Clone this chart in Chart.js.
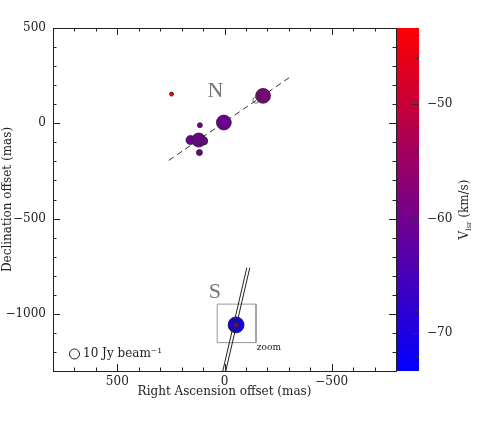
<!DOCTYPE html>
<html>
<head>
<meta charset="utf-8">
<script src="https://cdn.jsdelivr.net/npm/chart.js@4/dist/chart.umd.min.js"></script>
<style>
  html, body { margin: 0; padding: 0; background: #fff; }
</style>
</head>
<body>
<canvas id="spotChart" width="491" height="424"></canvas>
<script>
// maser spots: RA offset (mas), Dec offset (mas), Vlsr (km/s), flux (Jy/beam)
const spotRA   = [247, -180, 3, 115, 159, 120, 97, 117, -54, -54];
const spotDec  = [153, 144, 4, -10, -88, -88, -93, -154, -1058, -1058];
const spotVel  = [-44.5, -58, -60.5, -59.5, -60, -60.5, -60, -60, -71, -54.5];
const spotFlux = [1.6, 22, 22, 2.5, 8, 19.6, 6.4, 3.6, 25.6, 2.5];

// open rings inside the bigger spots
const ringRA   = [-169, -146, 101];
const ringDec  = [132, 121, -89];
const ringFlux = [6.4, 3.6, 6.4];

// dashed line through the northern group
const fitRA  = [260, -305];
const fitDec = [-195, 242];

// lines through the southern spot
const southA_RA  = [-104, 8];
const southA_Dec = [-758, -1300];
const southB_RA  = [-118, -6];
const southB_Dec = [-758, -1300];

// zoom box round S
const boxRA  = [34, -147, -147, 34, 34];
const boxDec = [-949, -949, -1151, -1151, -949];

const raTicks  = [500, 0, -500];
const decTicks = [500, 0, -500, -1000];
const velTicks = [-50, -60, -70];
const velMin = -73.3, velMax = -43.4;

const FONT = 'DejaVu Serif';
const INK = '#222';

function velColor(v) {
    let t = (v - velMin) / (velMax - velMin);
    t = Math.max(0, Math.min(1, t));
    return `rgb(${Math.round(255 * t)},0,${Math.round(255 * (1 - t))})`;
}
function fluxRadius(f) {
    return 5 * Math.sqrt(f / 10);
}
function pts(xs, ys) {
    return xs.map((x, i) => ({ x: x, y: ys[i] }));
}
function minus(v) {
    return String(v).replace('-', '\u2212');
}

/* =====================
   Frame, ticks, colour bar, labels
   ===================== */
const framePlugin = {
    id: 'framePlugin',
    afterDraw(chart) {
        const ctx = chart.ctx;
        const a = chart.chartArea;
        const sx = chart.scales.x, sy = chart.scales.y, sv = chart.scales.v;
        ctx.save();

        // colour bar
        const yTop = sv.getPixelForValue(velMax), yBot = sv.getPixelForValue(velMin);
        const g = ctx.createLinearGradient(0, yBot, 0, yTop);
        g.addColorStop(0, velColor(velMin));
        g.addColorStop(1, velColor(velMax));
        ctx.fillStyle = g;
        ctx.fillRect(a.right, yTop, 23, yBot - yTop);
        ctx.strokeStyle = '#333';
        ctx.lineWidth = 1;
        ctx.beginPath();
        for (let v = -72; v <= -44; v += 2) {
            const py = Math.round(sv.getPixelForValue(v)) + 0.5;
            const len = v % 10 === 0 ? 7 : 4;
            ctx.moveTo(a.right + 23, py);
            ctx.lineTo(a.right + 23 - len, py);
        }
        ctx.stroke();

        // plot box
        ctx.strokeStyle = INK;
        ctx.strokeRect(Math.round(a.left) + 0.5, Math.round(a.top) + 0.5,
            Math.round(a.right - a.left), Math.round(a.bottom - a.top));

        // ticks on all four sides
        ctx.beginPath();
        for (let v = -800; v <= 800; v += 100) {
            const px = Math.round(sx.getPixelForValue(v)) + 0.5;
            const len = v % 500 === 0 ? 7 : 3.5;
            ctx.moveTo(px, a.bottom); ctx.lineTo(px, a.bottom - len);
            ctx.moveTo(px, a.top); ctx.lineTo(px, a.top + len);
        }
        for (let v = -1300; v <= 500; v += 100) {
            const py = Math.round(sy.getPixelForValue(v)) + 0.5;
            const len = v % 500 === 0 ? 7 : 3.5;
            ctx.moveTo(a.left, py); ctx.lineTo(a.left + len, py);
            ctx.moveTo(a.right, py); ctx.lineTo(a.right - len, py);
        }
        ctx.stroke();

        // colour bar title, reading upwards
        ctx.translate(465, (a.top + a.bottom) / 2 + 10);
        ctx.rotate(-Math.PI / 2);
        ctx.fillStyle = INK;
        ctx.textBaseline = 'middle';
        const big = '12px "' + FONT + '"', small = '7px "' + FONT + '"';
        ctx.font = big;
        const w1 = ctx.measureText('V').width;
        const w3 = ctx.measureText(' (km/s)').width;
        ctx.font = small;
        const w2 = ctx.measureText('lsr').width;
        let x0 = -(w1 + w2 + w3) / 2;
        ctx.font = big;
        ctx.fillText('V', x0, 0);
        ctx.font = small;
        ctx.fillText('lsr', x0 + w1, 4);
        ctx.font = big;
        ctx.fillText(' (km/s)', x0 + w1 + w2, 0);
        ctx.setTransform(1, 0, 0, 1, 0, 0);

        // N / S labels and zoom tag
        ctx.fillStyle = '#777';
        ctx.textAlign = 'center';
        ctx.textBaseline = 'middle';
        ctx.font = '22px "Liberation Serif"';
        ctx.fillText('N', sx.getPixelForValue(42), sy.getPixelForValue(167));
        ctx.fillText('S', sx.getPixelForValue(45), sy.getPixelForValue(-888));
        ctx.fillStyle = INK;
        ctx.textAlign = 'left';
        ctx.font = '9px "' + FONT + '"';
        ctx.fillText('zoom', sx.getPixelForValue(-151), sy.getPixelForValue(-1177));

        // beam legend
        ctx.beginPath();
        ctx.arc(a.left + 21.5, a.bottom - 17, fluxRadius(10), 0, Math.PI * 2);
        ctx.strokeStyle = INK;
        ctx.stroke();
        ctx.font = '12px "' + FONT + '"';
        ctx.fillText('10 Jy beam\u207B\u00B9', a.left + 30, a.bottom - 17);

        ctx.restore();
    }
};

const tickFont = { family: FONT, size: 12 };

new Chart(document.getElementById('spotChart'), {
    type: 'scatter',
    data: {
        datasets: [
            {
                label: 'fit',
                data: pts(fitRA, fitDec),
                showLine: true,
                borderColor: '#333',
                borderWidth: 1,
                borderDash: [6, 4],
                pointRadius: 0,
                order: 1
            },
            {
                label: 'south A',
                data: pts(southA_RA, southA_Dec),
                showLine: true,
                borderColor: '#222',
                borderWidth: 1,
                pointRadius: 0,
                order: 1
            },
            {
                label: 'south B',
                data: pts(southB_RA, southB_Dec),
                showLine: true,
                borderColor: '#222',
                borderWidth: 1,
                pointRadius: 0,
                order: 1
            },
            {
                label: 'box',
                data: pts(boxRA, boxDec),
                showLine: true,
                borderColor: '#999',
                borderWidth: 1,
                pointRadius: 0,
                order: 4
            },
            {
                label: 'rings',
                data: pts(ringRA, ringDec),
                pointRadius: ringFlux.map(fluxRadius),
                pointBackgroundColor: 'rgba(0,0,0,0)',
                pointBorderColor: '#333',
                pointBorderWidth: 0.7,
                order: 2
            },
            {
                label: 'spots',
                data: pts(spotRA, spotDec),
                pointRadius: spotFlux.map(fluxRadius),
                pointBackgroundColor: spotVel.map(velColor),
                pointBorderColor: '#222',
                pointBorderWidth: 0.8,
                order: 3
            }
        ]
    },
    options: {
        responsive: false,
        animation: false,
        devicePixelRatio: 1,
        layout: { padding: { top: 28, bottom: 0, left: 0, right: 0 } },
        plugins: {
            legend: { display: false },
            tooltip: { enabled: false }
        },
        scales: {
            x: {
                type: 'linear',
                reverse: true,
                min: -800,
                max: 800,
                afterBuildTicks: (s) => { s.ticks = raTicks.map(v => ({ value: v })); },
                afterFit: (s) => { s.height = 53; s.paddingLeft = 0; s.paddingRight = 0; },
                grid: { display: false, drawTicks: false },
                border: { display: false },
                ticks: { font: tickFont, color: INK, padding: 4, maxRotation: 0, callback: minus },
                title: {
                    display: true,
                    text: 'Right Ascension offset (mas)',
                    font: tickFont,
                    color: INK,
                    padding: { top: 0, bottom: 25 }
                }
            },
            y: {
                type: 'linear',
                position: 'left',
                min: -1300,
                max: 500,
                afterBuildTicks: (s) => { s.ticks = decTicks.map(v => ({ value: v })); },
                afterFit: (s) => { s.width = 53; s.paddingTop = 0; s.paddingBottom = 0; },
                grid: { display: false, drawTicks: false },
                border: { display: false },
                ticks: { font: tickFont, color: INK, padding: 7, callback: minus },
                title: {
                    display: true,
                    text: 'Declination offset (mas)',
                    font: tickFont,
                    color: INK,
                    padding: { top: 1, bottom: 0 }
                }
            },
            v: {
                type: 'linear',
                position: 'right',
                min: velMin,
                max: velMax,
                afterBuildTicks: (s) => { s.ticks = velTicks.map(v => ({ value: v })); },
                afterFit: (s) => { s.width = 95; s.paddingTop = 0; s.paddingBottom = 0; },
                grid: { display: false, drawTicks: false },
                border: { display: false },
                ticks: { font: tickFont, color: INK, padding: 31, callback: minus }
            }
        }
    },
    plugins: [framePlugin]
});
</script>
</body>
</html>
